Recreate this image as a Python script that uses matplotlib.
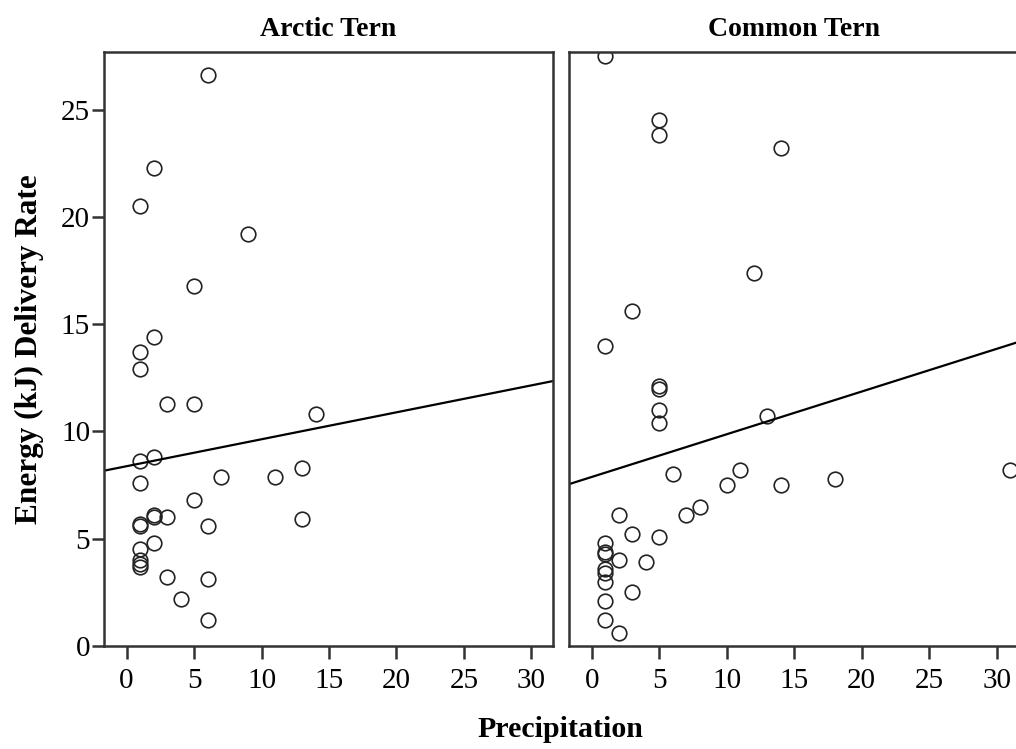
import numpy as np
import matplotlib
matplotlib.use("Agg")
import matplotlib.pyplot as plt

# datos
arctic_x = [6, 2, 1, 9, 5, 2, 1, 1, 3, 5, 14, 1, 2, 1, 7, 11, 13, 5, 2, 2, 3,
            1, 1, 6, 13, 2, 1, 1, 1, 1, 3, 6, 4, 6]
arctic_y = [26.6, 22.3, 20.5, 19.2, 16.8, 14.4, 13.7, 12.9, 11.3, 11.3, 10.8,
            8.6, 8.8, 7.6, 7.9, 7.9, 8.3, 6.8, 6.1, 6.0, 6.0, 5.7, 5.6, 5.6,
            5.9, 4.8, 4.5, 4.0, 3.8, 3.7, 3.2, 3.1, 2.2, 1.2]

common_x = [1, 5, 5, 14, 12, 3, 1, 5, 5, 5, 5, 13, 6, 11, 10, 14, 18, 31, 8,
            7, 2, 3, 5, 1, 1, 1, 2, 4, 1, 1, 1, 3, 1, 1, 2]
common_y = [27.5, 24.5, 23.8, 23.2, 17.4, 15.6, 14.0, 12.1, 12.0, 11.0, 10.4,
            10.7, 8.0, 8.2, 7.5, 7.5, 7.8, 8.2, 6.5, 6.1, 6.1, 5.2, 5.1, 4.8,
            4.4, 4.3, 4.0, 3.9, 3.6, 3.4, 3.0, 2.5, 2.1, 1.2, 0.6]

# recta de ajuste (intercepto, pendiente)
arctic_fit = (8.38, 0.1256)
common_fit = (7.88, 0.199)

panels = [("Arctic Tern", arctic_x, arctic_y, arctic_fit),
          ("Common Tern", common_x, common_y, common_fit)]

xticks = [0, 5, 10, 15, 20, 25, 30]
yticks = [0, 5, 10, 15, 20, 25]

serif = "Liberation Serif"
fig = plt.figure(figsize=(10.16, 7.49), dpi=100)
ax1 = fig.add_axes([0.1024, 0.1375, 0.4419, 0.7935])
ax2 = fig.add_axes([0.5603, 0.1375, 0.4419, 0.7935])

for ax, (title, xs, ys, fit) in zip([ax1, ax2], panels):
    ax.set_xlim(-1.67, 31.6)
    ax.set_ylim(0, 27.7)
    ax.plot(xs, ys, linestyle="none", marker="o", markersize=10.5,
            markerfacecolor="none", markeredgecolor="#222222", markeredgewidth=1.2)
    xl = np.array(ax.get_xlim())
    ax.plot(xl, fit[0] + fit[1] * xl, color="black", linewidth=1.6)
    ax.set_title(title, fontsize=20, fontweight="bold", family=serif, pad=11)
    ax.set_xticks(xticks)
    ax.set_xticklabels([str(t) for t in xticks], family=serif, fontsize=21)
    for s in ax.spines.values():
        s.set_linewidth(1.8)
        s.set_color("#333333")
    ax.tick_params(axis="x", direction="out", length=9, width=1.8, color="#333333", pad=7)

ax1.set_yticks(yticks)
ax1.set_yticklabels([str(t) for t in yticks], family=serif, fontsize=21)
ax1.tick_params(axis="y", direction="out", length=9, width=1.8, color="#333333", pad=1)
ax2.set_yticks([])

ax1.set_ylabel("Energy (kJ) Delivery Rate", fontsize=22.5, fontweight="bold",
               family=serif, labelpad=12)
fig.text(0.552, 0.026, "Precipitation", ha="center", va="center",
         fontsize=21.5, fontweight="bold", family=serif)

plt.savefig("out.png", dpi=100)
